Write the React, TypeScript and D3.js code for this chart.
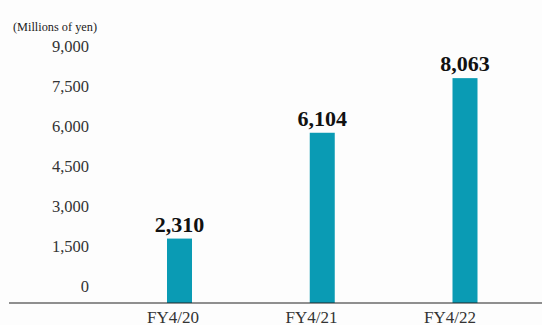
import React from "react";
import * as d3 from "d3";

const categories = ["FY4/20", "FY4/21", "FY4/22"];
const values = [2310, 6104, 8063];
const valueLabels = ["2,310", "6,104", "8,063"];
const tickValues = [0, 1500, 3000, 4500, 6000, 7500, 9000];
const unitLabel = "(Millions of yen)";

export default function App() {
  const W = 542, H = 325;
  const y = d3.scaleLinear().domain([0, 9000]).range([303, 52]);
  const yLab = d3.scaleLinear().domain([0, 9000]).range([292, 52]);
  const xBar = d3.scalePoint<string>().domain(categories).range([179.5, 465]);
  const xLab = d3.scalePoint<string>().domain(categories).range([173, 450]);
  const bw = 25;
  const fmt = d3.format(",");
  const serif = "'Liberation Serif', 'Times New Roman', serif";
  return (
    <svg width={W} height={H} style={{ position: "absolute", left: 0, top: 0, background: "#fdfdfd" }} fontFamily={serif}>
      <text x={13} y={31} fontSize={13.5} textLength={84} lengthAdjust="spacingAndGlyphs" fill="#222">{unitLabel}</text>
      {tickValues.map((t) => (
        <text key={t} x={89} y={yLab(t)} fontSize={16.5} textAnchor="end" fill="#333">{fmt(t)}</text>
      ))}
      {categories.map((c, i) => (
        <g key={c}>
          <rect x={(xBar(c) as number) - bw / 2} y={y(values[i])} width={bw} height={y(0) - y(values[i])} fill="#0a9bb4" />
          <text x={xBar(c)} y={y(values[i]) - 7} fontSize={22} fontWeight="bold" textAnchor="middle" fill="#111">{valueLabels[i]}</text>
          <text x={xLab(c)} y={322.5} fontSize={17} textAnchor="middle" fill="#333">{c}</text>
        </g>
      ))}
      <line x1={9} x2={542} y1={y(0)} y2={y(0)} stroke="#222" strokeWidth={1.2} />
    </svg>
  );
}
